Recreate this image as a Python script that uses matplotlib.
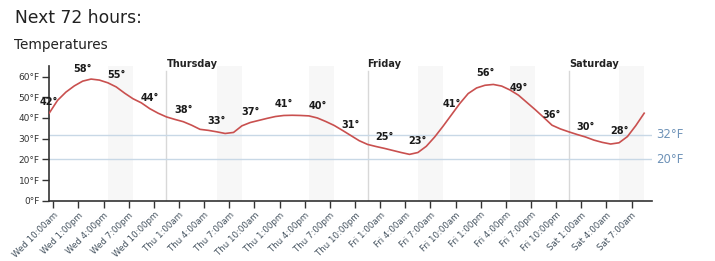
import matplotlib
matplotlib.use("Agg")
import matplotlib.pyplot as plt

# hours after Wed 10:00am
hours = [h - 0.5 for h in range(72)]
temps = [42.3, 48.5, 52.5, 55.5, 57.8, 58.8, 58.3, 57.0, 55.0, 52.0,
         49.3, 47.3, 44.5, 42.3, 40.5, 39.3, 38.2, 36.5, 34.5, 34.0,
         33.3, 32.5, 33.0, 36.2, 37.8, 38.8, 39.8, 40.7, 41.2, 41.3,
         41.2, 41.0, 40.0, 38.3, 36.4, 34.0, 31.5, 29.0, 27.2, 26.2,
         25.3, 24.3, 23.3, 22.4, 23.3, 26.3, 30.8, 36.0, 41.5, 47.0,
         51.8, 54.5, 55.8, 56.2, 55.4, 53.5, 51.0, 47.5, 44.0, 40.3,
         36.5, 34.7, 33.3, 32.0, 30.8, 29.3, 28.2, 27.4, 28.0, 31.0,
         36.3, 42.3]

label_hours = [-0.5 + 4 * k for k in range(18)]
label_temps = [42, 58, 55, 44, 38, 33, 37, 41, 40, 31, 25, 23, 41, 56, 49, 36, 30, 28]

tick_hours = list(range(0, 70, 3))
tick_labels = ["Wed 10:00am", "Wed 1:00pm", "Wed 4:00pm", "Wed 7:00pm", "Wed 10:00pm",
               "Thu 1:00am", "Thu 4:00am", "Thu 7:00am", "Thu 10:00am", "Thu 1:00pm",
               "Thu 4:00pm", "Thu 7:00pm", "Thu 10:00pm",
               "Fri 1:00am", "Fri 4:00am", "Fri 7:00am", "Fri 10:00am", "Fri 1:00pm",
               "Fri 4:00pm", "Fri 7:00pm", "Fri 10:00pm",
               "Sat 1:00am", "Sat 4:00am", "Sat 7:00am"]

day_hours = [13.5, 37.5, 61.5]
day_names = ["Thursday", "Friday", "Saturday"]

band_starts = [6.5, 19.5, 30.5, 43.5, 54.5, 67.5]
band_width = 3

ref_temps = [32, 20]

fig = plt.figure(figsize=(7.15, 2.61), dpi=100)
ax = fig.add_axes([0.069, 0.231, 0.8425, 0.516])
ax.set_xlim(-0.48, 71.4)
ax.set_ylim(0, 65.1)

for b in band_starts:
    ax.axvspan(b, b + band_width, facecolor="#f7f7f7", edgecolor="none", lw=0, zorder=0)

for d, name in zip(day_hours, day_names):
    ax.axvline(d, ymax=0.96, color="#d8d8d8", lw=1, zorder=1)
    ax.text(d, 66.0, name, fontsize=7, fontweight="semibold", color="#222222",
            ha="left", va="center", clip_on=False)

for r in ref_temps:
    ax.axhline(r, color="#c8d8e6", lw=1, zorder=1)
    ax.text(71.9, r, f"{r}°F", fontsize=8.5, color="#6f93b8",
            ha="left", va="center", clip_on=False)

ax.plot(hours, temps, color="#c9504f", lw=1.2, zorder=3)

for h, t in zip(label_hours, label_temps):
    ax.annotate(f"{t}°", (h, t), xytext=(0, 8.4), textcoords="offset points",
                ha="center", va="center", fontsize=7, fontweight="semibold",
                color="#1a1a1a", zorder=4, annotation_clip=False)

ax.set_xticks(tick_hours)
ax.set_xticklabels(tick_labels, rotation=45, ha="right", rotation_mode="anchor",
                   fontsize=6.2, color="#44525f")
ax.set_yticks(range(0, 61, 10))
ax.set_yticklabels([f"{v}°F" for v in range(0, 61, 10)], fontsize=6.5, color="#333333")
ax.tick_params(axis="both", direction="out", length=5, width=1, color="#333333", pad=2)

for s in ["top", "right"]:
    ax.spines[s].set_visible(False)
for s in ["left", "bottom"]:
    ax.spines[s].set_color("#333333")
    ax.spines[s].set_linewidth(1.2)

fig.text(15 / 715, 1 - 18 / 261, "Next 72 hours:", fontsize=12.3, color="#222222",
         ha="left", va="center")
fig.text(14 / 715, 1 - 45 / 261, "Temperatures", fontsize=9.8, color="#222222",
         ha="left", va="center")

fig.savefig("out.png", dpi=100)
